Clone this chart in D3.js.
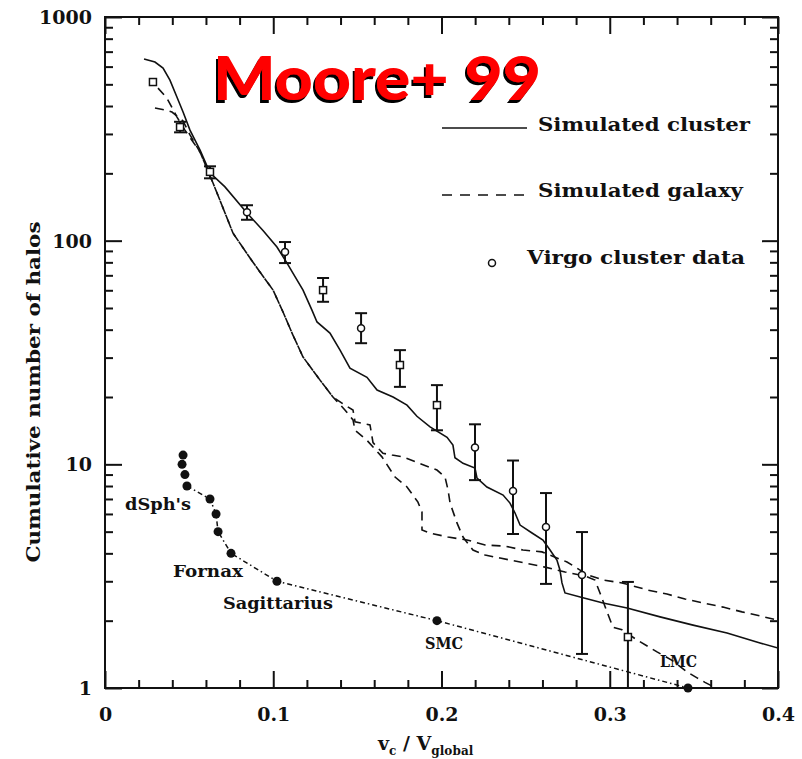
<!DOCTYPE html>
<html>
<head>
<meta charset="utf-8">
<script src="https://cdn.jsdelivr.net/npm/d3@7"></script>
<style>
  body { margin: 0; background: #fff; }
  text { font-family: "DejaVu Serif", "Liberation Serif", serif; fill: #111; }
</style>
</head>
<body>
<script>
// Moore et al. 1999 - cumulative number of substructure halos vs v_c / V_global

// simulated cluster (solid)
const clusterV = [0.0232,0.0297,0.0345,0.0386,0.0428,0.0464,0.0505,0.0565,0.0624,0.0713,0.0844,0.0939,0.1022,0.1082,0.1117,0.1177,0.1230,0.1260,0.1337,0.1397,0.1456,0.1557,0.1617,0.1712,0.1795,0.1854,0.1932,0.2033,0.2068,0.2080,0.2128,0.2199,0.2211,0.2270,0.2366,0.2407,0.2437,0.2467,0.2538,0.2603,0.2645,0.2686,0.2704,0.2716,0.2734,0.2841,0.2960,0.3103,0.3299,0.3495,0.3697,0.3893,0.4000];
const clusterN = [649,629,591,522,438,376,312,254,201,174,133,111,93.6,79.4,71.6,60.1,48.9,43.3,38.6,32.4,26.9,24.5,21.5,20.0,18.4,16.4,14.7,13.2,12.2,10.7,10.1,9.62,8.68,7.92,7.29,6.71,6.06,5.35,4.93,4.59,4.14,3.73,3.37,2.95,2.66,2.53,2.40,2.28,2.08,1.91,1.76,1.59,1.51];

// simulated galaxy, two dashed runs
const galaxyAV = [0.0297,0.0357,0.0398,0.0464,0.0505,0.0565,0.0642,0.0695,0.0761,0.0862,0.0921,0.0999,0.1058,0.1117,0.1177,0.1278,0.1355,0.1426,0.1474,0.1486,0.1557,0.1646,0.1724,0.1795,0.1860,0.1884,0.1884,0.1932,0.2039,0.2152,0.2259,0.2377,0.2484,0.2597,0.2746,0.2871,0.2960,0.3073,0.3227,0.3340,0.3447,0.3554,0.3673,0.3786,0.3893,0.4000];
const galaxyAN = [392,384,376,343,297,249,181,144,108,83.6,72.4,60.1,48.0,37.8,30.2,23.8,20.0,17.5,15.8,14.2,12.8,10.8,8.77,7.92,6.78,6.12,5.09,4.93,4.73,4.59,4.36,4.31,4.14,4.06,3.66,3.20,3.04,2.95,2.74,2.63,2.50,2.40,2.30,2.19,2.10,2.01];
const galaxyBV = [0.0315,0.0368,0.0428,0.0475,0.0565,0.0642,0.0695,0.0761,0.0862,0.0921,0.0999,0.1058,0.1117,0.1177,0.1278,0.1355,0.1426,0.1474,0.1486,0.1575,0.1593,0.1652,0.1706,0.1771,0.1854,0.1973,0.2021,0.2039,0.2051,0.2092,0.2128,0.2187,0.2259,0.2348,0.2467,0.2615,0.2734,0.2853,0.2912,0.2942,0.2984,0.3019,0.3073,0.3162,0.3281,0.3370,0.3459,0.3519,0.3566,0.3608];
const galaxyBN = [481,434,357,312,249,181,144,108,83.6,72.4,60.1,48.0,37.8,30.2,23.8,20.0,18.4,17.5,15.5,15.0,12.5,11.2,11.0,10.8,10.2,9.43,8.77,7.68,6.71,5.47,4.73,4.14,3.93,3.81,3.66,3.47,3.30,3.17,3.04,2.66,2.19,1.87,1.82,1.64,1.45,1.33,1.18,1.11,1.06,1.02];

// Virgo cluster data with error bars
const virgoV  = [0.0285,0.0446,0.0624,0.0844,0.1070,0.1296,0.1522,0.1753,0.1973,0.2199,0.2425,0.2621,0.2835,0.3108];
const virgoN  = [512,322,203,134,88.9,60.1,40.6,27.8,18.4,11.9,7.6,5.25,3.20,1.69];
const virgoHi = [512,340,215,144,98.6,68.1,47.4,32.4,22.6,15.1,10.4,7.44,4.98,2.98];
const virgoLo = [512,305,190,124,79.4,53.3,34.8,22.2,14.2,8.5,4.88,2.92,1.42,0.9];
const virgoShape = ['s','s','s','c','c','s','c','s','s','c','c','c','c','s'];

// Milky Way satellites
const mwV = [0.0464,0.0458,0.0475,0.0487,0.0624,0.0660,0.0672,0.0749,0.1022,0.1973,0.3465];
const mwN = [11,10,9,8,7,6,5,4,3,2,1];
const mwNames = ["dSph's", "Fornax", "Sagittarius", "SMC", "LMC"];
const mwNameV = [0.0119, 0.0404, 0.0701, 0.1902, 0.3299];
const mwNameN = [6.25, 3.13, 2.26, 1.49, 1.24];

const xTicks = [0, 0.1, 0.2, 0.3, 0.4];
const yTicks = [1, 10, 100, 1000];

const W = 802, H = 759;
const pLeft = 105, pRight = 778, pTop = 17, pBottom = 688;

const x = d3.scaleLinear().domain([0, 0.4]).range([pLeft, pRight]);
const y = d3.scaleLog().domain([1, 1000]).range([pBottom, pTop]);

const svg = d3.select('body').append('svg')
  .attr('width', W).attr('height', H);

const defs = svg.append('defs');
defs.append('clipPath').attr('id', 'plot')
  .append('rect').attr('x', pLeft).attr('y', pTop)
  .attr('width', pRight - pLeft).attr('height', pBottom - pTop);

// black drop shadow for the title
const shadow = defs.append('filter').attr('id', 'shadow')
  .attr('x', '-10%').attr('y', '-20%').attr('width', '120%').attr('height', '150%');
shadow.append('feOffset').attr('in', 'SourceAlpha').attr('dx', -2).attr('dy', 3).attr('result', 'off');
shadow.append('feFlood').attr('flood-color', '#000').attr('result', 'blk');
shadow.append('feComposite').attr('in', 'blk').attr('in2', 'off').attr('operator', 'in').attr('result', 'sh');
const merge = shadow.append('feMerge');
merge.append('feMergeNode').attr('in', 'sh');
merge.append('feMergeNode').attr('in', 'SourceGraphic');

// ticks: minor and major, all pointing inward, on four sides
const xMinor = d3.range(0, 0.4001, 0.02).filter(d => Math.abs(d * 10 - Math.round(d * 10)) > 1e-6);
const yMinor = [];
[1, 10, 100].forEach(dec => { for (let k = 2; k <= 9; k++) yMinor.push(dec * k); });

function axisGroup(axis, tx, ty) {
  const g = svg.append('g').attr('transform', 'translate(' + tx + ',' + ty + ')').call(axis);
  g.select('.domain').remove();
  g.selectAll('line').attr('stroke', '#111').attr('stroke-width', 2);
  return g;
}

axisGroup(d3.axisBottom(x).tickValues(xMinor).tickSize(-8).tickFormat(''), 0, pBottom);
axisGroup(d3.axisTop(x).tickValues(xMinor).tickSize(-8).tickFormat(''), 0, pTop);
axisGroup(d3.axisTop(x).tickValues(xTicks).tickSize(-17).tickFormat(''), 0, pTop);
axisGroup(d3.axisLeft(y).tickValues(yMinor).tickSize(-8).tickFormat(''), pLeft, 0);
axisGroup(d3.axisRight(y).tickValues(yMinor).tickSize(-8).tickFormat(''), pRight, 0);
axisGroup(d3.axisRight(y).tickValues(yTicks).tickSize(-16).tickFormat(''), pRight, 0);

const xAxis = axisGroup(d3.axisBottom(x).tickValues(xTicks).tickSize(-17)
  .tickFormat(d => d === 0 ? '0' : d3.format('.1f')(d)), 0, pBottom);
xAxis.selectAll('text')
  .attr('y', 33).attr('dy', 0)
  .style('font-size', '19px').style('font-weight', 'bold');

const yAxis = axisGroup(d3.axisLeft(y).tickValues(yTicks).tickSize(-17)
  .tickFormat(d3.format('d')), pLeft, 0);
yAxis.selectAll('text')
  .attr('x', -13).attr('dy', '0.35em')
  .style('font-size', '19px').style('font-weight', 'bold');

// frame
svg.append('rect')
  .attr('x', pLeft).attr('y', pTop)
  .attr('width', pRight - pLeft).attr('height', pBottom - pTop)
  .attr('fill', 'none').attr('stroke', '#111').attr('stroke-width', 2);

const plot = svg.append('g').attr('clip-path', 'url(#plot)');

const line = d3.line().x(d => x(d[0])).y(d => y(d[1]));
const pairs = (vs, ns) => vs.map((v, i) => [v, ns[i]]);

plot.append('path')
  .datum(pairs(clusterV, clusterN))
  .attr('d', line)
  .attr('fill', 'none').attr('stroke', '#111').attr('stroke-width', 1.6);

[[galaxyAV, galaxyAN], [galaxyBV, galaxyBN]].forEach(s => {
  plot.append('path')
    .datum(pairs(s[0], s[1]))
    .attr('d', line)
    .attr('fill', 'none').attr('stroke', '#111').attr('stroke-width', 1.6)
    .attr('stroke-dasharray', '9,6');
});

// virgo points with error bars
const virgo = virgoV.map((v, i) => ({ v: v, n: virgoN[i], hi: virgoHi[i], lo: virgoLo[i], s: virgoShape[i] }));
const vg = plot.selectAll('.virgo').data(virgo).enter().append('g').attr('class', 'virgo');
vg.filter(d => d.hi > d.lo).append('line')
  .attr('x1', d => x(d.v)).attr('x2', d => x(d.v))
  .attr('y1', d => y(d.hi)).attr('y2', d => y(d.lo))
  .attr('stroke', '#111').attr('stroke-width', 2);
vg.filter(d => d.hi > d.lo).append('line')
  .attr('x1', d => x(d.v) - 6).attr('x2', d => x(d.v) + 6)
  .attr('y1', d => y(d.hi)).attr('y2', d => y(d.hi))
  .attr('stroke', '#111').attr('stroke-width', 2);
vg.filter(d => d.hi > d.lo).append('line')
  .attr('x1', d => x(d.v) - 6).attr('x2', d => x(d.v) + 6)
  .attr('y1', d => y(d.lo)).attr('y2', d => y(d.lo))
  .attr('stroke', '#111').attr('stroke-width', 2);
vg.filter(d => d.s === 'c').append('circle')
  .attr('cx', d => x(d.v)).attr('cy', d => y(d.n)).attr('r', 3.5)
  .attr('fill', '#fff').attr('stroke', '#111').attr('stroke-width', 1.5);
vg.filter(d => d.s === 's').append('rect')
  .attr('x', d => x(d.v) - 3.5).attr('y', d => y(d.n) - 3.5)
  .attr('width', 7).attr('height', 7)
  .attr('fill', '#fff').attr('stroke', '#111').attr('stroke-width', 1.5);

// Milky Way satellites
svg.append('path')
  .datum(pairs(mwV, mwN).slice(3))
  .attr('d', line)
  .attr('fill', 'none').attr('stroke', '#111').attr('stroke-width', 1.5)
  .attr('stroke-dasharray', '5,3,1.5,3');
svg.selectAll('.mw').data(pairs(mwV, mwN)).enter().append('circle')
  .attr('class', 'mw')
  .attr('cx', d => x(d[0])).attr('cy', d => y(d[1])).attr('r', 4.5)
  .attr('fill', '#111');

const nameWidth = [66, 70, 110, 38, 37];
svg.selectAll('.mwname').data(mwNames).enter().append('text')
  .attr('class', 'mwname')
  .attr('x', (d, i) => x(mwNameV[i])).attr('y', (d, i) => y(mwNameN[i]))
  .attr('textLength', (d, i) => nameWidth[i]).attr('lengthAdjust', 'spacingAndGlyphs')
  .style('font-size', '17px').style('font-weight', 'bold')
  .text(d => d);

// legend
const lg = svg.append('g');
lg.append('line').attr('x1', 442).attr('x2', 527).attr('y1', 128).attr('y2', 128)
  .attr('stroke', '#111').attr('stroke-width', 1.6);
lg.append('text').attr('x', 538).attr('y', 131)
  .attr('textLength', 212).attr('lengthAdjust', 'spacingAndGlyphs')
  .style('font-size', '19px').style('font-weight', 'bold').text('Simulated cluster');
lg.append('line').attr('x1', 442).attr('x2', 527).attr('y1', 195).attr('y2', 195)
  .attr('stroke', '#111').attr('stroke-width', 1.6).attr('stroke-dasharray', '10,8');
lg.append('text').attr('x', 538).attr('y', 197)
  .attr('textLength', 205).attr('lengthAdjust', 'spacingAndGlyphs')
  .style('font-size', '19px').style('font-weight', 'bold').text('Simulated galaxy');
lg.append('circle').attr('cx', 492).attr('cy', 263).attr('r', 3.5)
  .attr('fill', '#fff').attr('stroke', '#111').attr('stroke-width', 1.5);
lg.append('text').attr('x', 527).attr('y', 264)
  .attr('textLength', 218).attr('lengthAdjust', 'spacingAndGlyphs')
  .style('font-size', '19px').style('font-weight', 'bold').text('Virgo cluster data');

// axis titles
svg.append('text')
  .attr('transform', 'translate(40,392) rotate(-90)')
  .attr('text-anchor', 'middle')
  .attr('textLength', 341).attr('lengthAdjust', 'spacingAndGlyphs')
  .style('font-size', '19px').style('font-weight', 'bold')
  .text('Cumulative number of halos');

const xl = svg.append('text').attr('x', 378).attr('y', 750)
  .style('font-size', '19px').style('font-weight', 'bold');
xl.append('tspan').text('v');
xl.append('tspan').attr('dy', 5).style('font-size', '12px').text('c');
xl.append('tspan').attr('dy', -5).text(' / V');
xl.append('tspan').attr('dy', 5).style('font-size', '12px').attr('textLength', 42).text('global');

// title
svg.append('text')
  .attr('x', 213).attr('y', 100)
  .attr('textLength', 328).attr('lengthAdjust', 'spacingAndGlyphs')
  .attr('filter', 'url(#shadow)')
  .style('font-family', '"Comic Sans MS", "Lato", "Open Sans", sans-serif')
  .style('font-size', '60px').style('font-weight', '900')
  .style('fill', '#ff0000')
  .text('Moore+ 99');
</script>
</body>
</html>
